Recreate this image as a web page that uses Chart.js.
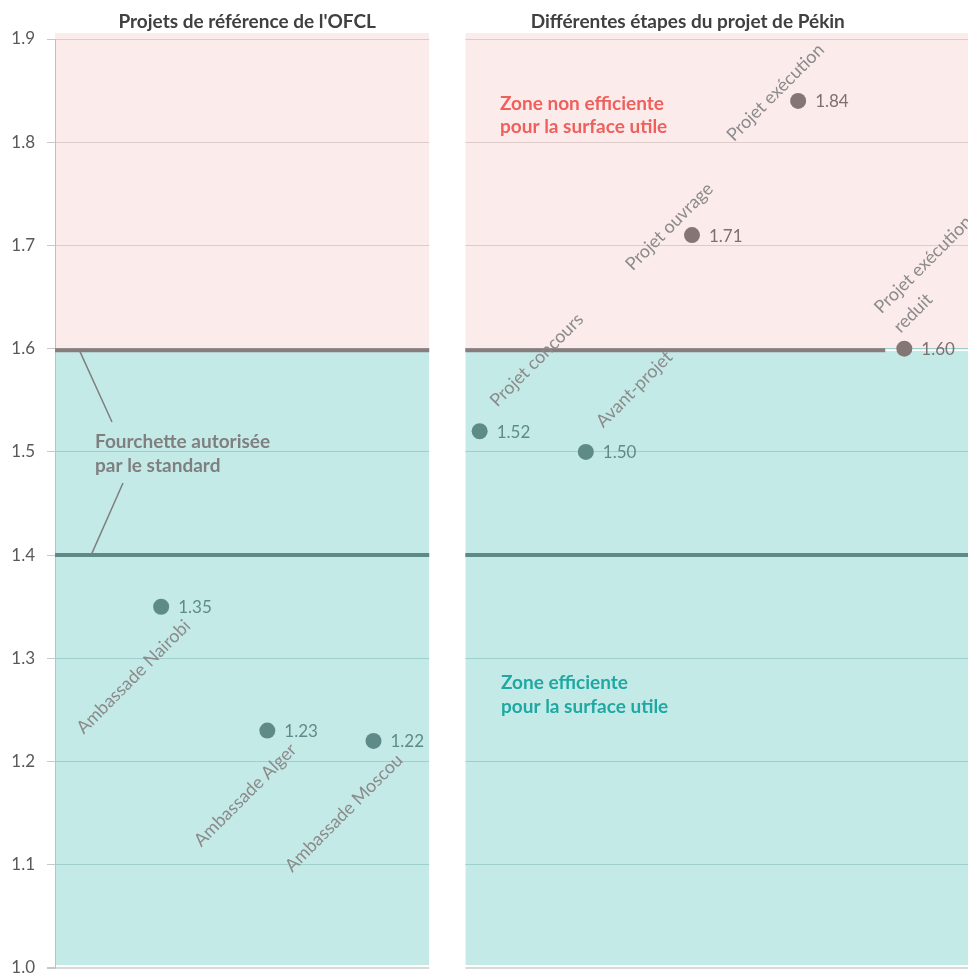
<!DOCTYPE html>
<html>
<head>
<meta charset="utf-8">
<script src="https://cdn.jsdelivr.net/npm/chart.js@4.4.0/dist/chart.umd.min.js"></script>
<style>
html,body{margin:0;padding:0;background:#ffffff;overflow:hidden;}
#wrap{width:968px;height:976px;position:relative;}
canvas{display:block;}
</style>
</head>
<body>
<div id="wrap"><canvas id="c" width="968" height="976"></canvas></div>
<script>
// ---------- data ----------
const categories = [
  'Ambassade Nairobi',
  'Ambassade Alger',
  'Ambassade Moscou',
  'Projet concours',
  'Avant-projet',
  'Projet ouvrage',
  'Projet exécution',
  'Projet exécution\nreduit'
];
const ratios = [1.35, 1.23, 1.22, 1.52, 1.50, 1.71, 1.84, 1.60];
const panelTitles = ["Projets de référence de l'OFCL", "Différentes étapes du projet de Pékin"];
const yTickValues = [1.0, 1.1, 1.2, 1.3, 1.4, 1.5, 1.6, 1.7, 1.8, 1.9];
const standardBounds = [1.4, 1.6];
const zoneTopText = ['Zone non efficiente', 'pour la surface utile'];
const zoneBottomText = ['Zone efficiente', 'pour la surface utile'];
const noteText = ['Fourchette autorisée', 'par le standard'];

// ---------- style ----------
const FONT = 'Lato, "Open Sans", sans-serif';
const PINK = '#fcebeb';
const TEAL = '#c4eae8';
const DOT_TEAL = '#5e8b88';
const DOT_BROWN = '#857676';
const TXT_BROWN = '#7d7070';
const CAT_GREY = '#8b8b8b';
const LINE_HIGH = '#8b7b7b';
const LINE_LOW = '#5d8a87';
const X_MAX = 8.6;
const GAP = [3.525, 3.865];
const HIGH_LINE_END = 7.82;
const labelPlacement = ['below','below','below','above','above','left','left','aboveMulti'];
const PLACEMENTS = {
  below:      {align:'right',  u: 7,   v: 30,  lh: 0},
  above:      {align:'left',   u: 29,  v: -10, lh: 0},
  left:       {align:'center', u: -10, v: -22, lh: 0},
  aboveMulti: {align:'left',   u: 8,   v: -46, lh: 27}
};

const panelPlugin = {
  id: 'panels',
  beforeDraw(chart) {
    const {ctx, chartArea: a, scales: {x, y}} = chart;
    const y16 = y.getPixelForValue(standardBounds[1]);
    const gx0 = x.getPixelForValue(GAP[0]);
    const gx1 = x.getPixelForValue(GAP[1]);
    const top = a.top - 6, bot = a.bottom - 3;
    ctx.save();
    [[a.left, gx0], [gx1, a.right]].forEach(([l, r]) => {
      ctx.fillStyle = PINK; ctx.fillRect(l, top, r - l, y16 - top);
      ctx.fillStyle = TEAL; ctx.fillRect(l, y16, r - l, bot - y16);
    });
    ctx.restore();
  },
  beforeDatasetsDraw(chart) {
    const {ctx, chartArea: a, scales: {x, y}} = chart;
    const gx0 = x.getPixelForValue(GAP[0]);
    const gx1 = x.getPixelForValue(GAP[1]);
    ctx.save();
    ctx.fillStyle = '#ffffff';
    ctx.fillRect(gx0, a.top - 8, gx1 - gx0, a.bottom - a.top + 14);
    const yLow = y.getPixelForValue(standardBounds[0]);
    const yHigh = y.getPixelForValue(standardBounds[1]) + 1.5;
    const xEnd = x.getPixelForValue(HIGH_LINE_END);
    ctx.strokeStyle = '#ffffff'; ctx.lineWidth = 1.5;
    ctx.beginPath(); ctx.moveTo(xEnd, yHigh); ctx.lineTo(a.right, yHigh); ctx.stroke();
    ctx.lineWidth = 4;
    ctx.strokeStyle = LINE_HIGH;
    ctx.beginPath();
    ctx.moveTo(a.left, yHigh); ctx.lineTo(gx0, yHigh);
    ctx.moveTo(gx1, yHigh); ctx.lineTo(xEnd, yHigh);
    ctx.stroke();
    ctx.strokeStyle = LINE_LOW;
    ctx.beginPath();
    ctx.moveTo(a.left, yLow); ctx.lineTo(gx0, yLow);
    ctx.moveTo(gx1, yLow); ctx.lineTo(a.right, yLow);
    ctx.stroke();
    ctx.restore();
  },
  afterDatasetsDraw(chart) {
    const {ctx} = chart;
    const meta = chart.getDatasetMeta(0);
    ctx.save();
    meta.data.forEach((pt, i) => {
      const v = ratios[i];
      ctx.font = `17px ${FONT}`;
      ctx.fillStyle = v >= standardBounds[1] ? TXT_BROWN : DOT_TEAL;
      ctx.textAlign = 'left';
      ctx.textBaseline = 'middle';
      ctx.fillText(v.toFixed(2), pt.x + 17, pt.y + 1);
      const p = PLACEMENTS[labelPlacement[i]];
      ctx.save();
      ctx.translate(pt.x, pt.y);
      ctx.rotate(-Math.PI / 4);
      ctx.font = `18px ${FONT}`;
      ctx.fillStyle = CAT_GREY;
      ctx.textAlign = p.align;
      ctx.textBaseline = 'middle';
      categories[i].split('\n').forEach((ln, k) => ctx.fillText(ln, p.u, p.v + k * p.lh));
      ctx.restore();
    });
    ctx.restore();
  },
  afterDraw(chart) {
    const {ctx, scales: {x, y}} = chart;
    ctx.save();
    ctx.font = `bold 19px ${FONT}`;
    ctx.fillStyle = '#404040';
    ctx.textAlign = 'center';
    ctx.textBaseline = 'alphabetic';
    ctx.fillText(panelTitles[0], x.getPixelForValue(1.81), 28);
    ctx.fillText(panelTitles[1], x.getPixelForValue(5.96), 28);
    ctx.textAlign = 'left';
    ctx.font = `bold 19px ${FONT}`;
    ctx.fillStyle = '#ef5f5b';
    ctx.fillText(zoneTopText[0], 500, 110);
    ctx.fillText(zoneTopText[1], 500, 133);
    ctx.fillStyle = '#1fa8a2';
    ctx.fillText(zoneBottomText[0], 501, 689);
    ctx.fillText(zoneBottomText[1], 501, 713);
    ctx.fillStyle = '#7f7f7f';
    ctx.fillText(noteText[0], 95, 448);
    ctx.fillText(noteText[1], 95, 472);
    ctx.strokeStyle = '#7f7f7f';
    ctx.lineWidth = 1.5;
    ctx.beginPath();
    ctx.moveTo(80, y.getPixelForValue(standardBounds[1]) + 3); ctx.lineTo(112, 422);
    ctx.moveTo(123, 483); ctx.lineTo(92, y.getPixelForValue(standardBounds[0]) - 2);
    ctx.stroke();
    ctx.restore();
  }
};

new Chart(document.getElementById('c'), {
  type: 'scatter',
  data: {
    datasets: [{
      data: ratios.map((v, i) => ({x: i + 1, y: v})),
      pointRadius: 8,
      pointHoverRadius: 8,
      pointBorderWidth: 0,
      pointBackgroundColor: ctx => (ratios[ctx.dataIndex] >= standardBounds[1] ? DOT_BROWN : DOT_TEAL)
    }]
  },
  options: {
    responsive: false,
    animation: false,
    devicePixelRatio: 1,
    layout: {autoPadding: false, padding: {top: 39, bottom: 8, left: 0, right: 0}},
    plugins: {legend: {display: false}, tooltip: {enabled: false}},
    scales: {
      x: {type: 'linear', display: false, min: 0, max: X_MAX},
      y: {
        min: 1.0, max: 1.9,
        afterBuildTicks: s => { s.ticks = yTickValues.map(v => ({value: v})); },
        afterFit: s => { s.width = 55; s.paddingTop = 0; s.paddingBottom = 0; },
        ticks: {
          color: '#595959',
          font: {family: FONT, size: 17},
          padding: 12,
          callback: v => Number(v).toFixed(1)
        },
        grid: {
          color: c => {
            const v = c.tick ? c.tick.value : 0;
            if (Math.abs(v - 1.0) < 1e-6) return '#d9d9d9';
            return v > standardBounds[1] ? '#dfcaca' : '#9fcfcc';
          },
          lineWidth: c => (c.tick && Math.abs(c.tick.value - 1.0) < 1e-6 ? 2 : 1),
          tickLength: 8,
          tickColor: '#c8c8c8',
          drawTicks: true
        },
        border: {color: '#c0c0c0', width: 1}
      }
    }
  },
  plugins: [panelPlugin]
});
</script>
</body>
</html>
